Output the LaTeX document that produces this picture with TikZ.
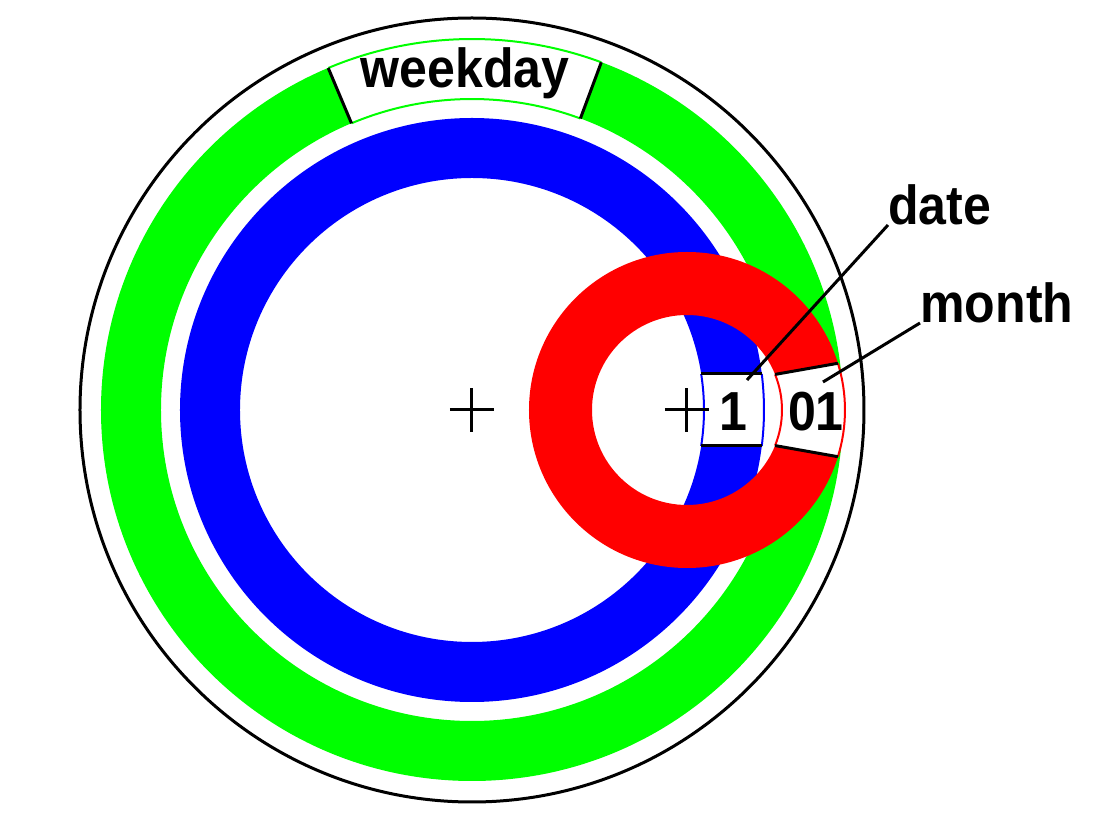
\documentclass[tikz,border=0pt]{standalone}
\usepackage{fontspec}
\setmainfont{Liberation Sans}
\newfontfamily\dialfont[FakeStretch=0.91]{Liberation Sans}
\usetikzlibrary{positioning}
\definecolor{ringgreen}{RGB}{0,255,0}
\definecolor{ringblue}{RGB}{0,0,255}
\definecolor{ringred}{RGB}{255,0,0}
\tikzstyle{dialtext} = [inner sep=0pt, font=\dialfont\bfseries\fontsize{27.5}{32}\selectfont]
\tikzstyle{edge} = [line width=1.5pt, black]
\tikzstyle{thinedge} = [line width=1pt]
\begin{document}
\begin{tikzpicture}[x=0.5pt, y=0.5pt]
    \fill[white] (-472,-403) rectangle (633,410);
    \useasboundingbox (-472,-403) rectangle (633,410);
    \coordinate (c) at (0,0);
    \coordinate (m) at (215,0);

    % rings
    \fill[ringgreen, even odd rule] (c) circle (371) circle (311);
    \fill[ringblue, even odd rule] (c) circle (292) circle (232);
    \fill[ringred, even odd rule] (m) circle (158) circle (95);
    \draw[edge] (c) circle (392);

    % weekday window
    \fill[white] (112.8:371) arc[start angle=112.8, end angle=69.6, radius=371]
        -- (69.6:311) arc[start angle=69.6, end angle=112.8, radius=311] -- cycle;
    \draw[thinedge, ringgreen] (112.8:371) arc[start angle=112.8, end angle=69.6, radius=371];
    \draw[thinedge, ringgreen] (112.8:311) arc[start angle=112.8, end angle=69.6, radius=311];
    \draw[edge] (112.8:371) -- (112.8:311);
    \draw[edge] (69.6:371) -- (69.6:311);

    % date window
    \fill[white] (229.2,36) -- (289.8,36) arc[start angle=7.08, end angle=-7.08, radius=292]
        -- (229.2,-36) arc[start angle=-8.93, end angle=8.93, radius=232] -- cycle;
    \draw[thinedge, ringblue] (8.93:232) arc[start angle=8.93, end angle=-8.93, radius=232];
    \draw[thinedge, ringblue] (7.08:292) arc[start angle=7.08, end angle=-7.08, radius=292];
    \draw[edge] (229.2,36) -- (289.8,36);
    \draw[edge] (229.2,-36) -- (289.8,-36);

    % month window
    \begin{scope}[shift={(m)}]
        \fill[white] (22:95) -- (17.2:158) arc[start angle=17.2, end angle=-17.2, radius=158]
            -- (-22:95) arc[start angle=-22, end angle=22, radius=95] -- cycle;
        \draw[thinedge, ringred] (22:95) arc[start angle=22, end angle=-22, radius=95];
        \draw[thinedge, ringred] (17.2:158) arc[start angle=17.2, end angle=-17.2, radius=158];
        \draw[edge] (22:95) -- (17.2:158);
        \draw[edge] (-22:95) -- (-17.2:158);
    \end{scope}

    % centre marks
    \draw[edge] ([xshift=-11pt]c) -- ([xshift=11pt]c);
    \draw[edge] ([yshift=-11pt]c) -- ([yshift=11pt]c);
    \draw[edge] ([xshift=-11pt]m) -- ([xshift=11pt]m);
    \draw[edge] ([yshift=-11pt]m) -- ([yshift=11pt]m);

    % texts
    \node (weekday) [dialtext, anchor=base] at (-7,322) {weekday};
    \node (dateval) [dialtext, anchor=base] at (261,-21) {1};
    \node (monthval) [dialtext, anchor=base] at (344,-21) {01};
    \node (date) [dialtext, anchor=base west] at (416,185) {date};
    \node (month) [dialtext, anchor=base west] at (448,87) {month};

    \coordinate (dateend) at (275,30);
    \coordinate (monthend) at (351,28);
    \draw[edge] (date.base west) -- (dateend);
    \draw[edge] (month.base west) -- (monthend);
\end{tikzpicture}
\end{document}
